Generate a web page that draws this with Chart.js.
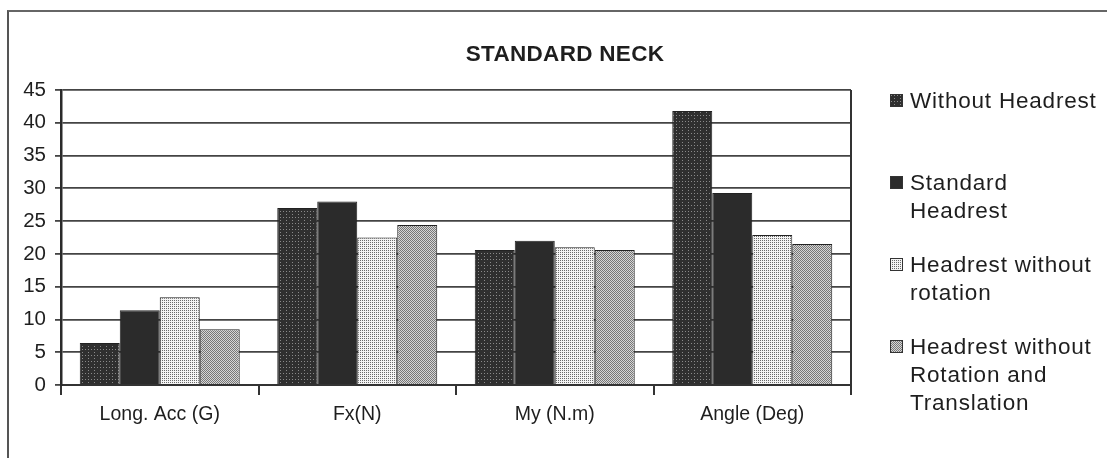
<!DOCTYPE html>
<html>
<head>
<meta charset="utf-8">
<script src="https://cdn.jsdelivr.net/npm/chart.js@4.4.1/dist/chart.umd.min.js"></script>
<style>
  body { margin: 0; background: #fff; font-family: "Liberation Sans", Arial, sans-serif; }
  #wrap { position: relative; width: 1107px; height: 458px; overflow: hidden; }
  #frame { position: absolute; left: 7px; top: 10px; width: 1200px; height: 600px;
           border-left: 2px solid #555; border-top: 2px solid #666; }
  #chart { position: absolute; left: 0; top: 0; }
  #title { position: absolute; left: 0; top: 40px; width: 1130px; text-align: center;
           font-weight: bold; font-size: 22.5px; line-height: 28px; color: #1e1e1e; letter-spacing: 0.3px; }
  .leg { position: absolute; left: 890px; font-size: 22.5px; line-height: 28px; color: #1e1e1e; letter-spacing: 0.8px; }
  .leg canvas { position: absolute; left: 0; top: 7px; }
  .leg div { margin-left: 20px; }
</style>
</head>
<body>
<div id="wrap">
  <div id="frame"></div>
  <canvas id="chart" width="1107" height="458"></canvas>
  <div id="title">STANDARD NECK</div>
  <div id="legend"></div>
</div>
<script>
// Дані
const categories = ['Long. Acc (G)', 'Fx(N)', 'My (N.m)', 'Angle (Deg)'];
const withoutHeadrest = [6.4, 27.0, 20.6, 41.8];
const standardHeadrest = [11.4, 28.0, 22.0, 29.3];
const noRotation = [13.4, 22.5, 21.0, 22.9];
const noRotationTranslation = [8.5, 24.4, 20.6, 21.5];
const seriesLines = [
  ['Without Headrest'],
  ['Standard', 'Headrest'],
  ['Headrest without', 'rotation'],
  ['Headrest without', 'Rotation and', 'Translation']
];
const yTicks = [0, 5, 10, 15, 20, 25, 30, 35, 40, 45];

// Текстури стовпчиків
function makePattern(size, base, dots, dotColor) {
  const c = document.createElement('canvas');
  c.width = size; c.height = size;
  const g = c.getContext('2d');
  g.fillStyle = base;
  g.fillRect(0, 0, size, size);
  g.fillStyle = dotColor;
  dots.forEach(([x, y]) => g.fillRect(x, y, 1, 1));
  return g.createPattern(c, 'repeat');
}

const fills = [
  makePattern(6, '#2f2f2f', [[1, 1], [4, 4], [4, 1]], '#8a8a8a'),
  '#2b2b2b',
  makePattern(2, '#f4f4f4', [[0, 0]], '#6a6a6a'),
  makePattern(2, '#d6d6d6', [[0, 0], [1, 1]], '#777777')
];

const seriesData = [withoutHeadrest, standardHeadrest, noRotation, noRotationTranslation];

// Права межа області графіка
const plotBorder = {
  id: 'plotBorder',
  afterDraw(chart) {
    const { ctx, chartArea } = chart;
    ctx.save();
    ctx.strokeStyle = '#333';
    ctx.lineWidth = 2;
    ctx.beginPath();
    ctx.moveTo(chartArea.right, chartArea.top);
    ctx.lineTo(chartArea.right, chartArea.bottom);
    ctx.stroke();
    ctx.restore();
  }
};

const ctx = document.getElementById('chart').getContext('2d');
new Chart(ctx, {
  type: 'bar',
  data: {
    labels: categories,
    datasets: seriesData.map((d, i) => ({
      label: seriesLines[i].join(' '),
      data: d,
      backgroundColor: fills[i],
      borderColor: '#222',
      borderWidth: 1,
      categoryPercentage: 0.81,
      barPercentage: 1
    }))
  },
  options: {
    responsive: false,
    animation: false,
    layout: { padding: { top: 90, right: 256, left: 0, bottom: 0 } },
    plugins: {
      legend: { display: false },
      title: { display: false },
      tooltip: { enabled: false }
    },
    scales: {
      x: {
        afterFit: s => { s.height = 73; },
        grid: { offset: true, drawOnChartArea: false, tickLength: 10, color: '#333', lineWidth: 2 },
        border: { color: '#333', width: 2 },
        ticks: { padding: 8, color: '#1e1e1e', font: { family: 'Liberation Sans', size: 19.5 } }
      },
      y: {
        min: 0,
        max: 45,
        afterFit: s => { s.width = 61; },
        afterBuildTicks: s => { s.ticks = yTicks.map(v => ({ value: v })); },
        grid: { color: '#444', lineWidth: 1.8, tickLength: 6 },
        border: { color: '#2a2a2a', width: 2.5 },
        ticks: { padding: 9, color: '#1e1e1e', font: { family: 'Liberation Sans', size: 20.5 } }
      }
    }
  },
  plugins: [plotBorder]
});

// Легенда
const legend = document.getElementById('legend');
seriesLines.forEach((lines, i) => {
  const item = document.createElement('div');
  item.className = 'leg';
  item.style.top = (87 + i * 82) + 'px';
  const sw = document.createElement('canvas');
  sw.width = 13; sw.height = 13;
  const g = sw.getContext('2d');
  g.fillStyle = fills[i];
  g.fillRect(0, 0, 13, 13);
  g.strokeStyle = '#333';
  g.strokeRect(0.5, 0.5, 12, 12);
  item.appendChild(sw);
  const txt = document.createElement('div');
  txt.innerHTML = lines.join('<br>');
  item.appendChild(txt);
  legend.appendChild(item);
});
</script>
</body>
</html>
